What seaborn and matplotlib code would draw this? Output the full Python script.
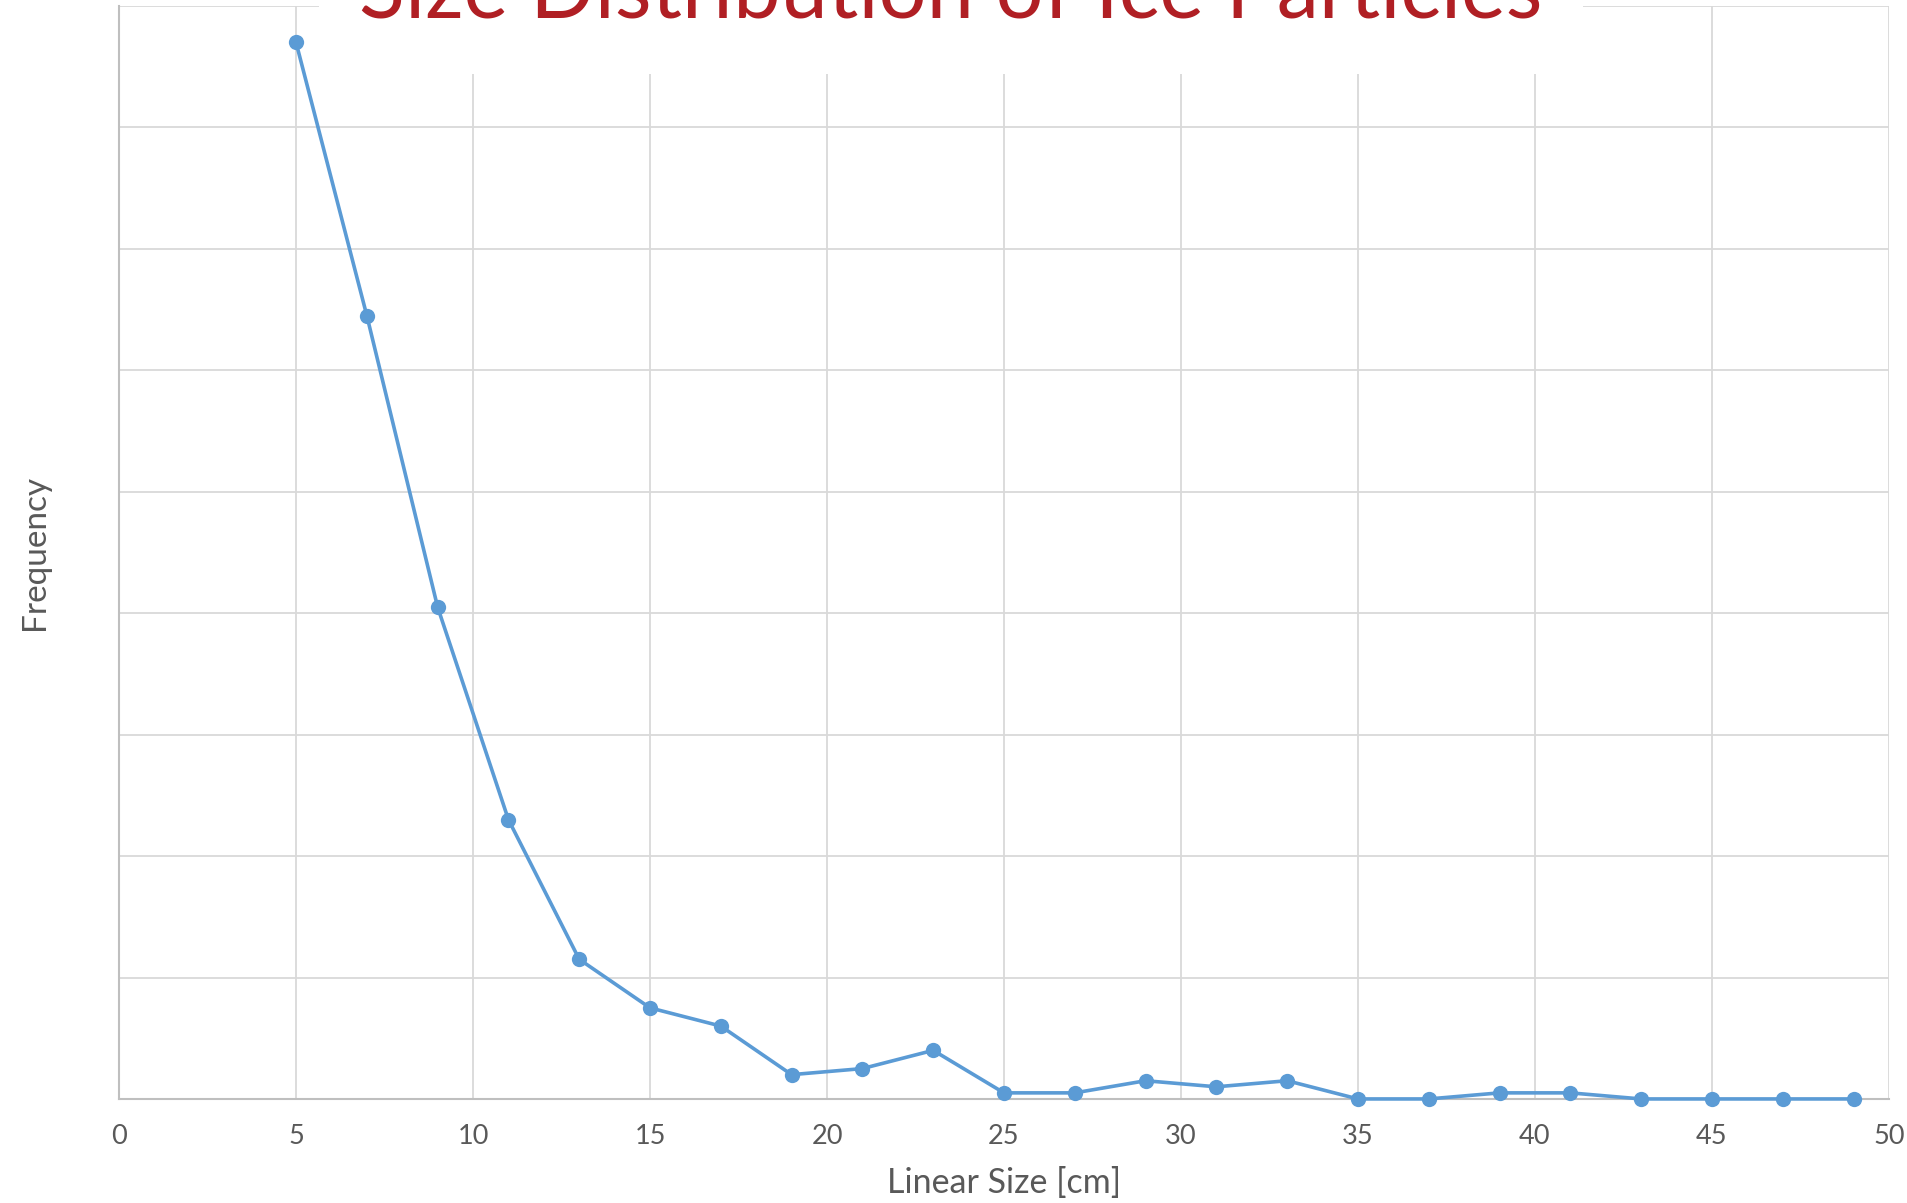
import matplotlib
matplotlib.use("Agg")
import matplotlib.pyplot as plt
import seaborn as sns
import pandas as pd

# particle size bins [cm] and counts per bin
sizes = [5, 7, 9, 11, 13, 15, 17, 19, 21, 23, 25, 27, 29, 31, 33, 35, 37, 39, 41, 43, 45, 47, 49]
counts = [174, 129, 81, 46, 23, 15, 12, 4, 5, 8, 1, 1, 3, 2, 3, 0, 0, 1, 1, 0, 0, 0, 0]

x_ticks = [0, 5, 10, 15, 20, 25, 30, 35, 40, 45, 50]

df = pd.DataFrame({"Linear Size [cm]": sizes, "Frequency": counts})

sns.set_style("whitegrid")
plt.rcParams['font.family'] = ['Lato', 'DejaVu Sans']

fig = plt.figure(figsize=(19.08, 12.03), dpi=100)
ax = fig.add_axes([0.0624, 0.0865, 0.9276, 0.9085])

sns.lineplot(data=df, x="Linear Size [cm]", y="Frequency", ax=ax,
             color="#5B9BD5", linewidth=2.6, marker="o", markersize=11,
             markeredgewidth=0, clip_on=False, zorder=3)

ax.set_xlim(0, 50)
ax.set_ylim(0, 180)
ax.set_xticks(x_ticks)
ax.set_yticks(range(0, 181, 20))
ax.set_yticklabels([])
ax.tick_params(axis='x', length=0, pad=18, labelsize=19.5, labelcolor="#595959")
ax.tick_params(axis='y', length=0)
ax.grid(True, color="#D9D9D9", linewidth=1.3)
for s in ["top", "right"]:
    ax.spines[s].set_visible(False)
for s in ["left", "bottom"]:
    ax.spines[s].set_color("#BFBFBF")
    ax.spines[s].set_linewidth(1.5)

ax.set_xlabel("Linear Size [cm]", fontsize=24.5, color="#595959", labelpad=13)
ax.set_ylabel("Frequency", fontsize=24, color="#595959", labelpad=46)

fig.text(0.4985, 1 - 18 / 1203, "Size Distribution of Ice Particles",
         ha="center", va="baseline", fontsize=61, color="#B01F24",
         bbox=dict(facecolor="white", edgecolor="none", pad=29), zorder=5)

fig.savefig("out.png", dpi=100)
